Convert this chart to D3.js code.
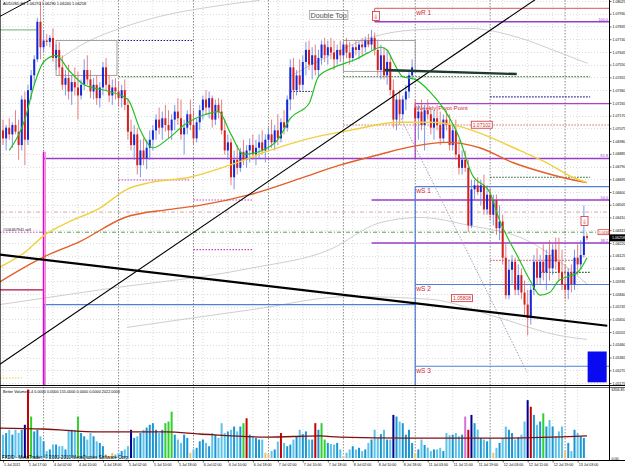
<!DOCTYPE html>
<html>
<head>
<meta charset="utf-8">
<script src="https://cdn.jsdelivr.net/npm/d3@7"></script>
<style>
  body { margin: 0; background: #fff; }
  svg { display: block; }
</style>
</head>
<body>
<div id="chart"></div>
<script>
// AUDUSD H1 screen, MetaTrader 4, 1 Jul - 13 Jul 2011

var symbol = "AUDUSD,H1";

// hourly candles [open, high, low, close]
var candles = [
  [1.0706,1.0714,1.0695,1.0700],[1.0700,1.0710,1.0691,1.0708],[1.0708,1.0715,1.0699,1.0703],[1.0703,1.0712,1.0693,1.0710],[1.0710,1.0721,1.0703,1.0705],
  [1.0705,1.0714,1.0684,1.0695],[1.0695,1.0732,1.0691,1.0729],[1.0729,1.0735,1.0680,1.0699],[1.0699,1.0740,1.0695,1.0736],[1.0736,1.0751,1.0729,1.0747],
  [1.0747,1.0762,1.0740,1.0759],[1.0759,1.0790,1.0757,1.0787],[1.0787,1.0802,1.0759,1.0768],[1.0768,1.0781,1.0764,1.0773],[1.0773,1.0778,1.0769,1.0772],
  [1.0772,1.0777,1.0768,1.0775],[1.0775,1.0782,1.0757,1.0760],[1.0760,1.0770,1.0751,1.0766],[1.0766,1.0772,1.0747,1.0753],[1.0753,1.0762,1.0736,1.0740],
  [1.0740,1.0751,1.0732,1.0745],[1.0745,1.0755,1.0729,1.0735],[1.0735,1.0747,1.0725,1.0742],[1.0742,1.0753,1.0732,1.0738],[1.0738,1.0750,1.0714,1.0732],
  [1.0732,1.0744,1.0729,1.0740],[1.0740,1.0759,1.0736,1.0751],[1.0751,1.0762,1.0740,1.0744],[1.0744,1.0751,1.0730,1.0735],[1.0735,1.0745,1.0729,1.0740],
  [1.0740,1.0747,1.0725,1.0730],[1.0730,1.0742,1.0723,1.0738],[1.0738,1.0757,1.0732,1.0753],[1.0753,1.0760,1.0736,1.0740],[1.0740,1.0747,1.0727,1.0732],
  [1.0732,1.0744,1.0725,1.0738],[1.0738,1.0745,1.0729,1.0735],[1.0735,1.0742,1.0724,1.0730],[1.0730,1.0740,1.0723,1.0736],[1.0736,1.0744,1.0721,1.0725],
  [1.0725,1.0730,1.0699,1.0705],[1.0705,1.0714,1.0691,1.0695],[1.0695,1.0710,1.0684,1.0703],[1.0703,1.0708,1.0673,1.0680],[1.0680,1.0699,1.0671,1.0691],
  [1.0691,1.0700,1.0680,1.0685],[1.0685,1.0699,1.0677,1.0693],[1.0693,1.0706,1.0684,1.0699],[1.0699,1.0710,1.0691,1.0706],[1.0706,1.0718,1.0699,1.0714],
  [1.0714,1.0723,1.0703,1.0708],[1.0708,1.0720,1.0699,1.0715],[1.0715,1.0725,1.0705,1.0710],[1.0710,1.0721,1.0700,1.0706],[1.0706,1.0718,1.0699,1.0714],
  [1.0714,1.0725,1.0706,1.0720],[1.0720,1.0730,1.0710,1.0715],[1.0715,1.0729,1.0699,1.0703],[1.0703,1.0714,1.0688,1.0708],[1.0708,1.0721,1.0703,1.0718],
  [1.0718,1.0729,1.0706,1.0710],[1.0710,1.0721,1.0695,1.0700],[1.0700,1.0715,1.0697,1.0712],[1.0712,1.0725,1.0706,1.0721],[1.0721,1.0732,1.0714,1.0729],
  [1.0729,1.0736,1.0718,1.0723],[1.0723,1.0735,1.0715,1.0730],[1.0730,1.0732,1.0708,1.0714],[1.0714,1.0729,1.0710,1.0725],[1.0725,1.0730,1.0715,1.0720],
  [1.0720,1.0729,1.0703,1.0706],[1.0706,1.0714,1.0688,1.0691],[1.0691,1.0703,1.0684,1.0697],[1.0697,1.0700,1.0665,1.0671],[1.0671,1.0691,1.0662,1.0684],
  [1.0684,1.0695,1.0673,1.0678],[1.0678,1.0693,1.0675,1.0690],[1.0690,1.0699,1.0680,1.0684],[1.0684,1.0695,1.0678,1.0691],[1.0691,1.0700,1.0682,1.0695],
  [1.0695,1.0703,1.0684,1.0688],[1.0688,1.0699,1.0680,1.0693],[1.0693,1.0703,1.0685,1.0697],[1.0697,1.0706,1.0688,1.0691],[1.0691,1.0703,1.0682,1.0699],
  [1.0699,1.0708,1.0691,1.0703],[1.0703,1.0714,1.0693,1.0697],[1.0697,1.0710,1.0691,1.0706],[1.0706,1.0718,1.0695,1.0700],[1.0700,1.0715,1.0697,1.0712],
  [1.0712,1.0721,1.0703,1.0708],[1.0708,1.0732,1.0705,1.0729],[1.0729,1.0759,1.0721,1.0753],[1.0753,1.0760,1.0729,1.0736],[1.0736,1.0751,1.0732,1.0747],
  [1.0747,1.0759,1.0735,1.0740],[1.0740,1.0762,1.0736,1.0757],[1.0757,1.0772,1.0747,1.0766],[1.0766,1.0773,1.0751,1.0755],[1.0755,1.0768,1.0744,1.0762],
  [1.0762,1.0770,1.0747,1.0751],[1.0751,1.0766,1.0745,1.0760],[1.0760,1.0773,1.0755,1.0770],[1.0770,1.0775,1.0757,1.0762],[1.0762,1.0773,1.0755,1.0768],
  [1.0768,1.0775,1.0759,1.0764],[1.0764,1.0773,1.0751,1.0759],[1.0759,1.0770,1.0755,1.0766],[1.0766,1.0773,1.0757,1.0762],[1.0762,1.0772,1.0759,1.0770],
  [1.0770,1.0775,1.0760,1.0764],[1.0764,1.0772,1.0755,1.0760],[1.0760,1.0770,1.0757,1.0768],[1.0768,1.0773,1.0762,1.0766],[1.0766,1.0772,1.0759,1.0770],
  [1.0770,1.0775,1.0762,1.0768],[1.0768,1.0776,1.0764,1.0773],[1.0773,1.0778,1.0768,1.0770],[1.0770,1.0781,1.0766,1.0775],[1.0775,1.0779,1.0762,1.0766],
  [1.0766,1.0773,1.0747,1.0751],[1.0751,1.0770,1.0744,1.0762],[1.0762,1.0768,1.0744,1.0747],[1.0747,1.0766,1.0740,1.0757],[1.0757,1.0762,1.0732,1.0736],
  [1.0736,1.0744,1.0708,1.0714],[1.0714,1.0732,1.0706,1.0729],[1.0729,1.0736,1.0710,1.0718],[1.0718,1.0732,1.0714,1.0729],[1.0729,1.0740,1.0721,1.0735],
  [1.0735,1.0751,1.0730,1.0747],[1.0747,1.0759,1.0744,1.0753],[1.0723,1.0729,1.0710,1.0715],[1.0715,1.0725,1.0699,1.0720],[1.0720,1.0729,1.0706,1.0710],
  [1.0710,1.0725,1.0691,1.0721],[1.0721,1.0729,1.0714,1.0718],[1.0718,1.0723,1.0703,1.0708],[1.0708,1.0721,1.0699,1.0715],[1.0715,1.0725,1.0706,1.0710],
  [1.0710,1.0720,1.0695,1.0700],[1.0700,1.0718,1.0697,1.0714],[1.0714,1.0721,1.0706,1.0710],[1.0710,1.0718,1.0691,1.0695],[1.0695,1.0710,1.0691,1.0706],
  [1.0706,1.0714,1.0684,1.0688],[1.0688,1.0699,1.0673,1.0678],[1.0678,1.0691,1.0673,1.0684],[1.0684,1.0691,1.0675,1.0678],[1.0678,1.0684,1.0630,1.0635],
  [1.0635,1.0669,1.0633,1.0662],[1.0662,1.0669,1.0654,1.0665],[1.0665,1.0671,1.0658,1.0660],[1.0660,1.0669,1.0650,1.0665],[1.0665,1.0673,1.0643,1.0647],
  [1.0647,1.0665,1.0643,1.0658],[1.0658,1.0663,1.0639,1.0643],[1.0643,1.0658,1.0635,1.0654],[1.0654,1.0658,1.0628,1.0633],[1.0633,1.0650,1.0624,1.0638],
  [1.0638,1.0643,1.0606,1.0611],[1.0611,1.0621,1.0580,1.0583],[1.0583,1.0609,1.0580,1.0602],[1.0602,1.0613,1.0591,1.0608],[1.0608,1.0611,1.0583,1.0587],
  [1.0587,1.0606,1.0583,1.0598],[1.0598,1.0603,1.0580,1.0585],[1.0585,1.0594,1.0568,1.0576],[1.0576,1.0587,1.0553,1.0566],[1.0566,1.0591,1.0561,1.0587],
  [1.0587,1.0613,1.0583,1.0608],[1.0608,1.0618,1.0591,1.0596],[1.0596,1.0613,1.0591,1.0608],[1.0608,1.0621,1.0594,1.0600],[1.0600,1.0617,1.0587,1.0613],
  [1.0613,1.0624,1.0594,1.0603],[1.0603,1.0621,1.0598,1.0617],[1.0617,1.0626,1.0602,1.0608],[1.0608,1.0626,1.0594,1.0600],[1.0600,1.0617,1.0587,1.0591],
  [1.0591,1.0606,1.0580,1.0587],[1.0587,1.0603,1.0580,1.0600],[1.0600,1.0606,1.0585,1.0591],[1.0591,1.0617,1.0587,1.0611],[1.0611,1.0621,1.0598,1.0606],
  [1.0606,1.0624,1.0602,1.0613],[1.0613,1.0650,1.0611,1.0627],[1.0627,1.0629,1.0624,1.06258]
];

// Better Volume histogram, one value per candle
var volumes = [
  2150,2300,2600,2150,2600,2300,2600,3060,6300,3820,
  2450,2600,2000,1540,640,790,1240,1240,1090,1090,
  790,2600,2600,2600,3820,2300,2000,1700,2300,2000,
  1540,1390,1090,330,180,480,330,480,640,790,
  1090,2600,1850,2000,2300,2600,2800,3060,3210,2600,
  2300,2600,3210,3360,4270,2150,1700,1390,2150,1850,
  480,790,940,1540,1700,1390,1090,2300,2150,1850,
  3210,2300,2450,2600,2900,2450,2900,3210,3660,2150,
  2000,1850,1700,1700,480,330,640,790,1500,2300,
  1390,1090,1240,1700,2000,2600,2200,2450,1700,1700,
  3210,2600,3210,1700,1390,1300,1240,1390,790,180,
  480,790,1090,790,940,640,790,1390,1700,2600,
  1850,2200,2600,1700,1700,3970,3820,3360,3210,2150,
  2600,1390,480,790,1700,1200,940,640,790,790,
  940,640,2300,2100,2150,2300,2000,2150,3820,2600,
  3970,3210,2600,1850,1700,1540,1850,480,940,1390,
  1850,2900,2600,2300,1700,1900,2150,3360,5330,4720,
  3970,3060,3360,4120,2900,3510,2900,2000,2450,2900,
  640,1390,640,2600,2300,2000,1850,30
];
// bars the indicator colours: n climax navy, r climax red, g churn green, o low volume, m climax churn
var volMarks = [[7,"n"],[8,"r"],[9,"g"],[24,"g"],[33,"o"],[34,"o"],[35,"o"],[41,"n"],[52,"g"],[53,"g"],[54,"g"],
  [60,"o"],[77,"g"],[78,"r"],[84,"o"],[85,"o"],[89,"r"],[100,"r"],[102,"g"],[103,"g"],[109,"o"],[125,"n"],
  [132,"o"],[148,"m"],[149,"r"],[150,"n"],[157,"o"],[168,"n"],[169,"r"],[173,"g"],[180,"o"],[187,"o"]];
// average of volume [bar, value]
var volAverage = [[-1,2760],[12.8,2670],[31,2400],[52.5,2400],[63,2210],[84.5,1930],[101.4,2030],
  [107.8,1930],[130,1840],[162,1840],[187,2030]];
var volMax = 6356.85;
var volHeader = "Better Volume 1.4  0.0000 0.0000 155.0000 0.0000 0.0000 2022.0000";

// axes
var priceTicks = [1.05175,1.05270,1.05365,1.05460,1.05555,1.05650,1.05745,1.05840,1.05935,1.06030,
  1.06125,1.06220,1.06315,1.06410,1.06505,1.06600,1.06695,1.06790,1.06885,1.06980,
  1.07075,1.07170,1.07265,1.07360,1.07455,1.07550,1.07645,1.07740,1.07835,1.07930,1.08025];
var dateLabels = ["1 Jul 2011","1 Jul 17:00","4 Jul 02:00","4 Jul 10:00","4 Jul 18:00","5 Jul 02:00",
  "5 Jul 10:00","5 Jul 18:00","6 Jul 02:00","6 Jul 10:00","6 Jul 18:00","7 Jul 02:00","7 Jul 10:00",
  "7 Jul 18:00","8 Jul 02:00","8 Jul 10:00","8 Jul 18:00","11 Jul 03:00","11 Jul 11:00","11 Jul 19:00",
  "12 Jul 03:00","12 Jul 11:00","12 Jul 19:00","13 Jul 03:00"];
var dateBars = [0,8,16,24,32,40,48,56,64,72,80,88,96,104,112,120,128,136,144,152,160,168,176,184];
var daySeparators = [13,37,61,85,109,132,156,180];

// moving averages [bar, price]
var fastMA = [[2,1.0691],[7,1.0714],[10,1.0740],[13,1.0757],[17,1.0762],[21,1.0751],[26,1.0740],[34,1.0735],
  [40,1.0729],[44,1.0706],[48,1.0693],[53,1.0700],[58,1.0710],[65,1.0718],[69,1.0720],[73,1.0703],[77,1.0688],
  [83,1.0691],[88,1.0699],[92,1.0715],[98,1.0726],[101,1.0746],[106,1.0753],[113,1.0759],[117,1.0764],
  [121,1.0768],[123,1.0766],[125,1.0757],[128,1.0746],[132,1.0744],[137,1.0734],[142,1.0719],[146,1.0701],
  [150,1.0674],[156,1.0659],[159,1.0639],[165,1.0611],[169,1.0593],[172,1.0583],[175,1.0585],[178,1.0594],
  [181,1.0597],[184,1.0600],[187,1.0611]];
var slowMA = [[-1,1.0604],[7,1.0615],[13.4,1.0628],[21.4,1.0638],[31,1.0648],[39.7,1.0662],[47,1.0667],
  [59.8,1.0671],[72.6,1.0680],[85.4,1.0691],[98.2,1.0700],[111,1.0706],[127,1.0712],[136.6,1.0712],
  [146.2,1.0709],[155.8,1.0701],[165.4,1.0691],[174,1.0682],[182.4,1.0671],[187,1.0667]];
var longMA = [[-1,1.0593],[13.4,1.0612],[24.6,1.0623],[39,1.0641],[53.4,1.0647],[63,1.0650],[79,1.0658],
  [95,1.0670],[107.8,1.0680],[120.6,1.0688],[131.2,1.0694],[142,1.0697],[152.6,1.0693],[163.2,1.0682],
  [174,1.0674],[184.6,1.0668],[187,1.0667]];
// grey channel curves
var bandUpperLeft = [[16.6,1.0757],[27.8,1.0773],[37.4,1.0782],[50.2,1.0791],[66.2,1.0798],[82.2,1.0803]];
var bandUpperRight = [[91.8,1.0746],[104.6,1.0762],[117.4,1.0775],[132.5,1.0781],[149.4,1.0782],[165.4,1.0775],[178.2,1.0764],[187.2,1.0756]];
var bandLowerA = [[-1,1.0576],[31,1.0587],[79,1.0603],[104.6,1.0617],[120.6,1.0637],[133.4,1.0641],[149.4,1.0635],[167.7,1.0624],[187.2,1.0591]];
var bandLowerB = [[39.7,1.0559],[79,1.0572],[111,1.0582],[136.6,1.0580],[159,1.0566],[178,1.0553],[187,1.0550]];

// drawn objects
var pivots = [["wR 1",1.0797,119],["Weekly Pivot Point",1.0726,132],["wS 1",1.0664,132],["wS 2",1.0591,132],["wS 3",1.0530,132]];
var fibos = [["100.0",1.0787,119],["61.8",1.0685,13],["50.0",1.0654,118],["38.2",1.0622,118]];
var navyDots = [[1.0773,37,61],[1.0735,92,99],[1.0731,156,188]];
var greenDots = [[1.0746,37,61],[1.0746,109,188],[1.0671,156,188],[1.0600,172,188]];
var pinkDots = [[1.0669,37,60],[1.0654,61,80],[1.0617,61,80]];
var salmonDots = [[1.0710,109,194],[1.0609,156,185]];
var sellOrder = [1.0630, "#106467941 sell"];
var stopLevel = 1.0645;
var trendThick = [[0,1.0613],[187,1.0562]];
var trendRising = [[0,1.0533],[160,1.0787]];
var trendCorner = [[-1,1.0791],[7,1.0801]];
var trendFlat = [[122.2,1.0751],[164.5,1.0748]];
var fanLine = [[127,1.0717],[167.7,1.0526]];
var boxes = [[17,36.5,1.0773,1.0747],[109,132,1.0773,1.0750]];
var priceTags = [[153.3,1.07102],[147,1.05808]];
var arrows = [[119.4,1.0791],[186.2,1.0638]];
var doubleTop = [98.5,1.0792,"Double Top"];
var leftLevels = [[1.0587,-1,13],[1.0781,-1,11]];
var blueBase = [1.0576,13,132];
var blueBlock = [187.2,193.3,1.0541,1.0518];

// ---------- layout ----------
var W = 625, H = 469;
var paneR = 609, mainB = 385, volT = 387, volB = 460;
var font = "'Liberation Sans', Arial, sans-serif";

var x = d3.scaleLinear().domain([0, 187]).range([3, 587]);
var y = d3.scaleLinear().domain([1.05175, 1.08025]).range([383, 1]);
var yv = d3.scaleLinear().domain([0, volMax]).range([458, 389]);

var svg = d3.select("#chart").append("svg")
    .attr("width", W).attr("height", H)
    .style("font-family", font);

var defs = svg.append("defs");
defs.append("clipPath").attr("id", "clipMain").append("rect")
    .attr("x", 0).attr("y", 0).attr("width", paneR).attr("height", mainB);
defs.append("clipPath").attr("id", "clipVol").append("rect")
    .attr("x", 0).attr("y", volT).attr("width", paneR).attr("height", volB - volT);

var main = svg.append("g").attr("clip-path", "url(#clipMain)");
var vol = svg.append("g").attr("clip-path", "url(#clipVol)");

// grid
main.selectAll(".hgrid").data(priceTicks).enter().append("line")
    .attr("x1", 0).attr("x2", paneR)
    .attr("y1", function(d) { return Math.round(y(d)) + 0.5; })
    .attr("y2", function(d) { return Math.round(y(d)) + 0.5; })
    .style("stroke", "#c4c4c4").style("stroke-width", 0.6).style("stroke-dasharray", "1,2");
[main, vol].forEach(function(g, k) {
  g.selectAll(".vgrid").data(dateBars).enter().append("line")
      .attr("x1", function(d) { return x(d); }).attr("x2", function(d) { return x(d); })
      .attr("y1", k ? volT : 0).attr("y2", k ? volB : mainB)
      .style("stroke", "#c4c4c4").style("stroke-width", 0.6).style("stroke-dasharray", "1,2");
  g.selectAll(".sep").data(daySeparators).enter().append("line")
      .attr("x1", function(d) { return x(d); }).attr("x2", function(d) { return x(d); })
      .attr("y1", k ? volT : 0).attr("y2", k ? volB : mainB)
      .style("stroke", "#707070").style("stroke-width", 0.8).style("stroke-dasharray", "1.5,1.5");
});

var line = d3.line()
    .x(function(d) { return x(d[0]); })
    .y(function(d) { return y(d[1]); })
    .curve(d3.curveMonotoneX);

// grey channel
[bandUpperLeft, bandUpperRight, bandLowerA, bandLowerB].forEach(function(b) {
  main.append("path").datum(b).attr("d", line)
      .style("fill", "none").style("stroke", "#c8c8c8").style("stroke-width", 0.9);
});

// horizontal dotted levels
function dots(list, color, dash) {
  main.selectAll(null).data(list).enter().append("line")
      .attr("x1", function(d) { return x(d[1]); }).attr("x2", function(d) { return x(d[2]); })
      .attr("y1", function(d) { return y(d[0]); }).attr("y2", function(d) { return y(d[0]); })
      .style("stroke", color).style("stroke-width", 1.1).style("stroke-dasharray", dash);
}
dots(navyDots, "#1a1a8c", "1.5,1.5");
dots(greenDots, "#1e5a1e", "1.5,1.5");
dots(pinkDots, "#d040c8", "1.5,1.5");
dots(salmonDots, "#d07070", "1.5,1.5");

// order lines across the pane
main.append("line").attr("x1", 0).attr("x2", paneR)
    .attr("y1", y(stopLevel)).attr("y2", y(stopLevel))
    .style("stroke", "#d89a9a").style("stroke-width", 0.9).style("stroke-dasharray", "4,2,1,2");
main.append("line").attr("x1", 40).attr("x2", paneR)
    .attr("y1", y(sellOrder[0])).attr("y2", y(sellOrder[0]))
    .style("stroke", "#3c9a3c").style("stroke-width", 0.9).style("stroke-dasharray", "4,2,1,2");
main.append("line").attr("x1", 0).attr("x2", 40)
    .attr("y1", y(sellOrder[0])).attr("y2", y(sellOrder[0]))
    .style("stroke", "#d040c8").style("stroke-width", 1).style("stroke-dasharray", "1.5,1.5");
main.append("text").attr("x", 3).attr("y", y(sellOrder[0]) - 1)
    .style("font-size", "3.8px").style("fill", "#202020").text(sellOrder[1]);

// grey boxes
main.selectAll(".box").data(boxes).enter().append("rect")
    .attr("x", function(d) { return x(d[0]); }).attr("y", function(d) { return y(d[2]); })
    .attr("width", function(d) { return x(d[1]) - x(d[0]); })
    .attr("height", function(d) { return y(d[3]) - y(d[2]); })
    .style("fill", "none").style("stroke", "#9a9a9a").style("stroke-width", 0.9);

// left side objects
main.selectAll(".lft").data(leftLevels).enter().append("line")
    .attr("x1", function(d) { return x(d[1]); }).attr("x2", function(d) { return x(d[2]); })
    .attr("y1", function(d) { return y(d[0]); }).attr("y2", function(d) { return y(d[0]); })
    .style("stroke", function(d, i) { return i ? "#8fbc8f" : "#b01040"; }).style("stroke-width", 1.2);
main.append("line").attr("x1", 0).attr("x2", 22).attr("y1", 378).attr("y2", 378)
    .style("stroke", "#e8c840").style("stroke-width", 1).style("stroke-dasharray", "1.5,1.5");
main.append("line").attr("x1", x(blueBase[1])).attr("x2", x(blueBase[2]))
    .attr("y1", y(blueBase[0])).attr("y2", y(blueBase[0]))
    .style("stroke", "#4f7fd6").style("stroke-width", 1.3);
main.append("line").attr("x1", x(blueBase[1]) + 1.5).attr("x2", x(blueBase[1]) + 1.5)
    .attr("y1", y(blueBase[0])).attr("y2", mainB)
    .style("stroke", "#4f7fd6").style("stroke-width", 1.3);

// fibo levels
fibos.forEach(function(f) {
  main.append("line").attr("x1", x(f[2])).attr("x2", paneR)
      .attr("y1", y(f[1])).attr("y2", y(f[1]))
      .style("stroke", "#9a3cc8").style("stroke-width", 1.4);
  svg.append("text").attr("x", 608).attr("y", y(f[1]) - 1)
      .attr("text-anchor", "end").style("font-size", "3.8px").style("fill", "#9a3cc8").text(f[0]);
});
// magenta edge of the retracement
main.append("line").attr("x1", x(13)).attr("x2", x(13)).attr("y1", y(1.0690)).attr("y2", mainB)
    .style("stroke", "#e000e0").style("stroke-width", 1.6);
main.append("line").attr("x1", x(13) + 1.8).attr("x2", x(13) + 1.8).attr("y1", y(1.0690)).attr("y2", mainB)
    .style("stroke", "#ff8cd0").style("stroke-width", 1.2);

// weekly pivots
pivots.forEach(function(p, i) {
  var col = i == 0 ? "#e07878" : (i == 1 ? "#b040c8" : "#4f7fd6");
  main.append("line").attr("x1", x(p[2])).attr("x2", paneR)
      .attr("y1", y(p[1])).attr("y2", y(p[1]))
      .style("stroke", col).style("stroke-width", 1.2);
  main.append("text").attr("x", x(132) + 1).attr("y", y(p[1]) + 6.5)
      .style("font-size", i == 1 ? "6.2px" : "6.6px").style("fill", "#d02838").text(p[0]);
});
main.append("line").attr("x1", x(119)).attr("x2", x(119)).attr("y1", y(pivots[0][1])).attr("y2", y(fibos[0][1]))
    .style("stroke", "#e07878").style("stroke-width", 1.2);
main.append("line").attr("x1", x(132)).attr("x2", x(132)).attr("y1", y(pivots[1][1])).attr("y2", y(fibos[1][1]))
    .style("stroke", "#b040c8").style("stroke-width", 1.2);
main.append("line").attr("x1", x(132)).attr("x2", x(132)).attr("y1", y(pivots[2][1])).attr("y2", mainB)
    .style("stroke", "#4f7fd6").style("stroke-width", 1.2);

// blue block bottom right
main.append("rect").attr("x", x(blueBlock[0])).attr("y", y(blueBlock[2]))
    .attr("width", x(blueBlock[1]) - x(blueBlock[0])).attr("height", y(blueBlock[3]) - y(blueBlock[2]))
    .style("fill", "#0a0af0");

// fan line
main.append("line").attr("x1", x(fanLine[0][0])).attr("y1", y(fanLine[0][1]))
    .attr("x2", x(fanLine[1][0])).attr("y2", y(fanLine[1][1]))
    .style("stroke", "#9c8cb8").style("stroke-width", 0.9).style("stroke-dasharray", "1.5,1.5");

// candles
var bull = function(d) { return d[3] >= d[0]; };
main.selectAll(".wick").data(candles).enter().append("line")
    .attr("x1", function(d, i) { return x(i); }).attr("x2", function(d, i) { return x(i); })
    .attr("y1", function(d) { return y(d[1]); }).attr("y2", function(d) { return y(d[2]); })
    .style("stroke", function(d) { return bull(d) ? "#5c7ce8" : "#e06060"; })
    .style("stroke-width", 0.8);
main.selectAll(".body").data(candles).enter().append("rect")
    .attr("x", function(d, i) { return x(i) - 1; }).attr("width", 2)
    .attr("y", function(d) { return y(Math.max(d[0], d[3])); })
    .attr("height", function(d) { return Math.max(0.8, Math.abs(y(d[0]) - y(d[3]))); })
    .style("fill", function(d) { return bull(d) ? "#1428d8" : "#d42020"; });

// moving averages
main.append("path").datum(longMA).attr("d", line)
    .style("fill", "none").style("stroke", "#e0602a").style("stroke-width", 1.4);
main.append("path").datum(slowMA).attr("d", line)
    .style("fill", "none").style("stroke", "#f0d040").style("stroke-width", 1.4);
main.append("path").datum(fastMA).attr("d", line)
    .style("fill", "none").style("stroke", "#22c022").style("stroke-width", 1.2);

// trend lines
function extend(a, b, from, to) {
  var k = (b[1] - a[1]) / (b[0] - a[0]);
  return [[from, a[1] + k * (from - a[0])], [to, a[1] + k * (to - a[0])]];
}
var straight = d3.line().x(function(d) { return x(d[0]); }).y(function(d) { return y(d[1]); });
main.append("path").datum(extend(trendThick[0], trendThick[1], -1, 193.5)).attr("d", straight)
    .style("stroke", "#000").style("stroke-width", 2.2).style("fill", "none");
main.append("path").datum(extend(trendRising[0], trendRising[1], -1, 180)).attr("d", straight)
    .style("stroke", "#000").style("stroke-width", 1.1).style("fill", "none");
main.append("path").datum(extend(trendCorner[0], trendCorner[1], -1, 9)).attr("d", straight)
    .style("stroke", "#000").style("stroke-width", 1).style("fill", "none");
main.append("path").datum(trendFlat).attr("d", straight)
    .style("stroke", "#1e3a30").style("stroke-width", 2.4).style("fill", "none");

// price tags
priceTags.forEach(function(t) {
  var g = main.append("g");
  g.append("rect").attr("x", x(t[0]) - 10.5).attr("y", y(t[1]) - 3.5).attr("width", 21).attr("height", 7)
      .style("fill", "#fff").style("stroke", "#d03030").style("stroke-width", 0.8);
  g.append("text").attr("x", x(t[0])).attr("y", y(t[1]) + 2).attr("text-anchor", "middle")
      .style("font-size", "5px").style("fill", "#d03030").text(t[1].toFixed(5));
});

// arrows
arrows.forEach(function(a) {
  main.append("rect").attr("x", x(a[0]) - 3.5).attr("y", y(a[1]) - 5).attr("width", 7).attr("height", 9)
      .style("fill", "#fff").style("stroke", "#d03030").style("stroke-width", 0.8);
  main.append("text").attr("x", x(a[0])).attr("y", y(a[1]) + 2.5).attr("text-anchor", "middle")
      .style("font-family", "'DejaVu Sans'").style("font-size", "6px").style("fill", "#d03030").text("\u21e9");
});

// double top label
var dt = main.append("text").attr("x", x(doubleTop[0])).attr("y", y(doubleTop[1]) + 2.5)
    .style("font-size", "7.2px").style("fill", "#505050").text(doubleTop[2]);
var bb = dt.node().getBBox();
main.insert("rect", "text").attr("x", bb.x - 1).attr("y", bb.y).attr("width", bb.width + 2).attr("height", bb.height)
    .style("fill", "none").style("stroke", "#a0a0a0").style("stroke-width", 0.8);

// header
main.append("text").attr("x", 3).attr("y", 5)
    .style("font-size", "3.9px").style("fill", "#000")
    .text(symbol + "  " + candles[candles.length - 1].map(function(v) { return v.toFixed(5); }).join(" "));

// ---------- volume pane ----------
var markColor = {n: "#000090", r: "#c80000", g: "#30d030", o: "#f0c070", m: "#d870d8"};
var marks = {};
volMarks.forEach(function(m) { marks[m[0]] = markColor[m[1]]; });
vol.selectAll(".vbar").data(volumes).enter().append("rect")
    .attr("x", function(d, i) { return x(i) - 1; }).attr("width", 2)
    .attr("y", function(d) { return yv(d); })
    .attr("height", function(d) { return yv(0) - yv(d); })
    .style("fill", function(d, i) {
      if (marks[i]) return marks[i];
      return bull(candles[i]) ? "#1c96d2" : "#5cc4ea";
    });
vol.append("path").datum(volAverage)
    .attr("d", d3.line().x(function(d) { return x(d[0]); }).y(function(d) { return yv(d[1]); }).curve(d3.curveMonotoneX))
    .style("fill", "none").style("stroke", "#801010").style("stroke-width", 1.3);
vol.append("text").attr("x", 3).attr("y", volT + 6)
    .style("font-size", "3.8px").style("fill", "#000").text(volHeader);
vol.append("text").attr("x", 2).attr("y", volB - 1)
    .style("font-size", "4.6px").style("fill", "#000")
    .text("FXDD - MetaTrader, \u00a9 2001-2010 MetaQuotes Software Corp.");

// ---------- frames and axes ----------
svg.append("line").attr("x1", 0).attr("x2", W).attr("y1", mainB + 0.5).attr("y2", mainB + 0.5)
    .style("stroke", "#000").style("stroke-width", 1);
svg.append("line").attr("x1", 0).attr("x2", W).attr("y1", volT + 0.5).attr("y2", volT + 0.5)
    .style("stroke", "#000").style("stroke-width", 0.6);
svg.append("line").attr("x1", 0).attr("x2", W).attr("y1", volB + 0.5).attr("y2", volB + 0.5)
    .style("stroke", "#000").style("stroke-width", 1);
svg.append("line").attr("x1", paneR + 0.5).attr("x2", paneR + 0.5).attr("y1", 0).attr("y2", volB)
    .style("stroke", "#000").style("stroke-width", 1);
svg.append("line").attr("x1", 0.5).attr("x2", 0.5).attr("y1", 0).attr("y2", volB)
    .style("stroke", "#000").style("stroke-width", 0.6);

var axisP = svg.append("g").attr("transform", "translate(" + (paneR + 0.5) + ",0)")
    .call(d3.axisRight(y).tickValues(priceTicks).tickSize(2).tickPadding(1).tickFormat(d3.format(".5f")));
axisP.select(".domain").remove();
axisP.attr("font-size", 3.6).attr("font-family", font);
axisP.selectAll("line").style("stroke-width", 0.6);

var axisV = svg.append("g").attr("transform", "translate(" + (paneR + 0.5) + ",0)")
    .call(d3.axisRight(yv).tickValues([0, volMax]).tickSize(0).tickPadding(2).tickFormat(d3.format(".2f")));
axisV.select(".domain").remove();
axisV.attr("font-size", 3.6).attr("font-family", font);

var axisD = svg.append("g").attr("transform", "translate(0," + (volB + 0.5) + ")")
    .call(d3.axisBottom(x).tickValues(dateBars).tickSize(2).tickPadding(1)
      .tickFormat(function(d, i) { return dateLabels[i]; }));
axisD.select(".domain").remove();
axisD.attr("font-size", 3.6).attr("font-family", font);
axisD.selectAll("text").attr("text-anchor", "start").attr("dx", "0.5");
axisD.selectAll("line").style("stroke-width", 0.6);

// current price box
var last = candles[candles.length - 1][3];
svg.append("rect").attr("x", paneR + 1).attr("y", y(last) - 3.5).attr("width", W - paneR).attr("height", 7)
    .style("fill", "#000");
svg.append("text").attr("x", paneR + 3).attr("y", y(last) + 1.4)
    .style("font-size", "3.6px").style("fill", "#fff").text(last.toFixed(5));
// order price tag
svg.append("rect").attr("x", 598).attr("y", y(sellOrder[0]) - 2.5).attr("width", 11).attr("height", 5)
    .style("fill", "#fff").style("stroke", "#d03030").style("stroke-width", 0.7);
svg.append("text").attr("x", 599).attr("y", y(sellOrder[0]) + 1.3)
    .style("font-size", "3.4px").style("fill", "#d03030").text(sellOrder[0].toFixed(4));
</script>
</body>
</html>
